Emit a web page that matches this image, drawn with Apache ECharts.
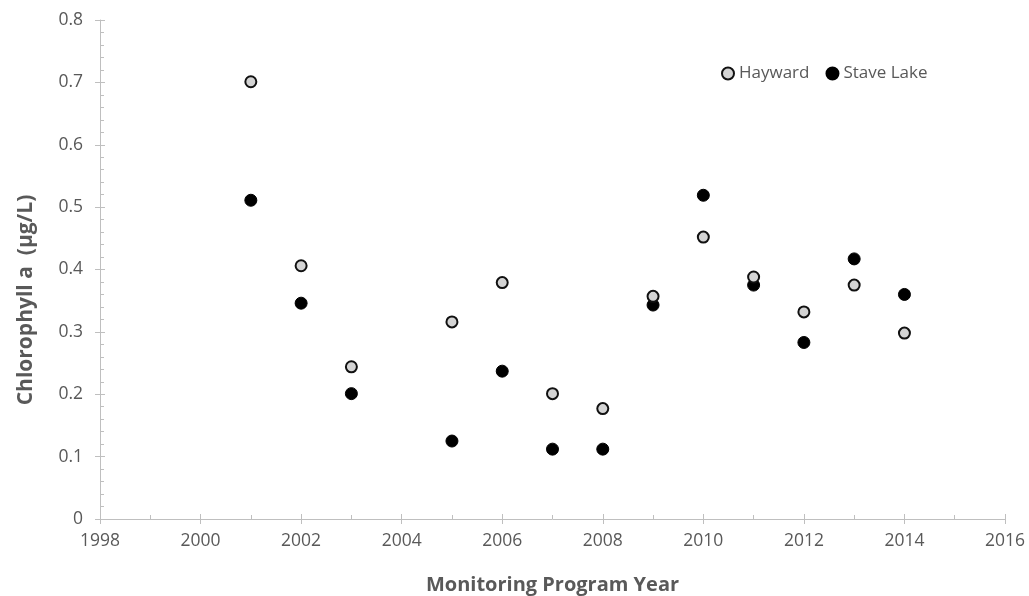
<!DOCTYPE html>
<html>
<head>
<meta charset="utf-8">
<script src="https://cdn.jsdelivr.net/npm/echarts@6/dist/echarts.min.js"></script>
<style>html,body{margin:0;padding:0;background:#fff}#c{width:1029px;height:596px}</style>
</head>
<body>
<div id="c"></div>
<script>
const years = [2001, 2002, 2003, 2005, 2006, 2007, 2008, 2009, 2010, 2011, 2012, 2013, 2014];
const hayward = [0.701, 0.406, 0.244, 0.316, 0.379, 0.201, 0.177, 0.357, 0.452, 0.388, 0.332, 0.375, 0.298];
const staveLake = [0.511, 0.346, 0.201, 0.125, 0.237, 0.112, 0.112, 0.343, 0.519, 0.375, 0.283, 0.417, 0.360];
const xTickLabels = ['1998','2000','2002','2004','2006','2008','2010','2012','2014','2016'];
const yTickLabels = ['0','0.1','0.2','0.3','0.4','0.5','0.6','0.7','0.8'];
const xTitle = 'Monitoring Program Year';
const yTitle = 'Chlorophyll a  (µg/L)';

const FONT = '"Open Sans", "Liberation Sans", sans-serif';
const axisColor = '#bfbfbf';
const textColor = '#595959';

const chart = echarts.init(document.getElementById('c'));
const xBase = {type:'value', min:1998, max:2016, interval:2, position:'bottom'};
const yBase = {type:'value', min:0, max:0.8, interval:0.1, position:'left'};
chart.setOption({
  animation:false,
  textStyle:{fontFamily:FONT},
  grid:{left:100, right:24, top:20, bottom:77, outerBoundsMode:'none', containLabel:false},
  legend:{
    left:716, top:60, itemWidth:12, itemHeight:12, itemGap:16,
    textStyle:{fontFamily:FONT, fontSize:17, color:textColor},
    data:['Hayward','Stave Lake']
  },
  graphic:[{
    type:'text', x:26, y:300, rotation:Math.PI/2,
    style:{text:yTitle, fontFamily:FONT, fontSize:21, fontWeight:'bold', fill:textColor,
      align:'center', verticalAlign:'middle'}
  }],
  xAxis:[
    Object.assign({}, xBase, {
      name:xTitle, nameLocation:'middle', nameGap:56,
      nameTextStyle:{fontFamily:FONT, fontSize:20, fontWeight:'bold', color:textColor},
      axisLine:{show:true, onZero:false, lineStyle:{color:axisColor, width:1}},
      axisTick:{show:true, inside:true, length:5, lineStyle:{color:axisColor}},
      minorTick:{show:true, splitNumber:2, length:4, lineStyle:{color:axisColor}},
      splitLine:{show:false},
      axisLabel:{fontFamily:FONT, fontSize:17.5, color:textColor, margin:13,
        formatter:function(v){ return xTickLabels[Math.round((v-1998)/2)]; }}
    }),
    Object.assign({}, xBase, {
      axisLine:{show:false, onZero:false},
      axisTick:{show:true, inside:false, length:5, lineStyle:{color:axisColor}},
      axisLabel:{show:false}, splitLine:{show:false}
    })
  ],
  yAxis:[
    Object.assign({}, yBase, {
      axisLine:{show:true, onZero:false, lineStyle:{color:axisColor, width:1}},
      axisTick:{show:true, inside:true, length:5, lineStyle:{color:axisColor}},
      minorTick:{show:true, splitNumber:5, length:4, lineStyle:{color:axisColor}},
      splitLine:{show:false},
      axisLabel:{fontFamily:FONT, fontSize:17.5, color:textColor, margin:17,
        formatter:function(v){ return yTickLabels[Math.round(v*10)]; }}
    }),
    Object.assign({}, yBase, {
      axisLine:{show:false, onZero:false},
      axisTick:{show:true, inside:false, length:5, lineStyle:{color:axisColor}},
      axisLabel:{show:false}, splitLine:{show:false}
    })
  ],
  series:[
    {
      name:'Hayward', type:'scatter', symbol:'circle', symbolSize:11,
      itemStyle:{color:'#d4d4d4', borderColor:'#111', borderWidth:2, opacity:1},
      data: years.map((y,i)=>[y, hayward[i]]), z:3
    },
    {
      name:'Stave Lake', type:'scatter', symbol:'circle', symbolSize:12,
      itemStyle:{color:'#000', borderColor:'#000', borderWidth:1, opacity:1},
      data: years.map((y,i)=>[y, staveLake[i]]), z:2
    }
  ]
});
</script>
</body>
</html>
